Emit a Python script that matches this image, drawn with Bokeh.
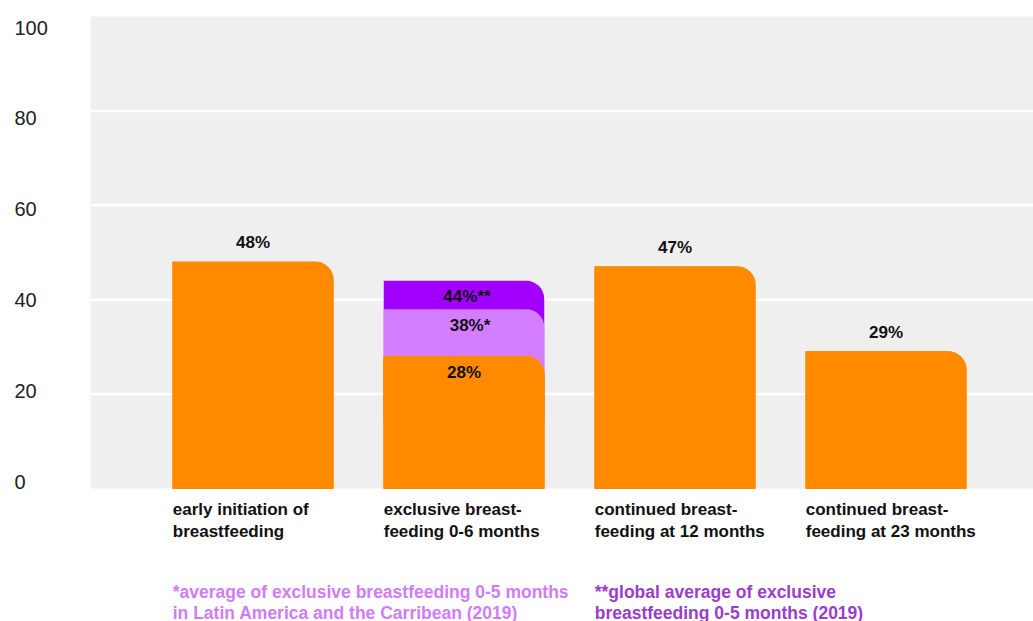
from bokeh.plotting import figure
from bokeh.models import Range1d, ColumnDataSource
from bokeh.core.properties import value
from bokeh.embed import file_html
from bokeh.resources import INLINE

# ---------------- data ----------------
categories = [
    "early initiation of\nbreastfeeding",
    "exclusive breast-\nfeeding 0-6 months",
    "continued breast-\nfeeding at 12 months",
    "continued breast-\nfeeding at 23 months",
]
values = [48, 28, 47, 29]
value_labels = ["48%", "28%", "47%", "29%"]

# overlays on the "exclusive breastfeeding" bar
overlay_index = 1
global_avg = 44
global_label = "44%**"
lac_avg = 38
lac_label = "38%*"

y_ticks = [0, 20, 40, 60, 80, 100]
y_tick_labels = ["0", "20", "40", "60", "80", "100"]

footnote_lac = "*average of exclusive breastfeeding 0-5 months\nin Latin America and the Carribean (2019)"
footnote_global = "**global average of exclusive\nbreastfeeding 0-5 months (2019)"

# ---------------- layout / style ----------------
W, H = 1033, 621
PX_PER_X = 211.0
X0_PX = 252.5
PX_PER_Y = 4.72
Y0_PX = 488.0
TICK_PX_PER_Y = 4.54
TICK_Y0_PX = 481.0
BAR_W = 160.5 / PX_PER_X

ORANGE = "#ff8a00"
PURPLE = "#a100ff"
LILAC = "#d27eff"
BG = "#efefef"
FONT = value("Liberation Sans")

def px_to_x(px):
    return (px - X0_PX) / PX_PER_X

x_range = Range1d(px_to_x(0), px_to_x(W))
y_range = Range1d(-(H - Y0_PX) / PX_PER_Y, Y0_PX / PX_PER_Y)

p = figure(width=W, height=H, x_range=x_range, y_range=y_range,
           x_axis_type=None, y_axis_type=None, toolbar_location=None,
           output_backend="svg", min_border=0, outline_line_color=None,
           background_fill_color="white", border_fill_color="white")
p.grid.visible = False
p.extra_y_ranges = {"ticks": Range1d(-(H - TICK_Y0_PX) / TICK_PX_PER_Y, TICK_Y0_PX / TICK_PX_PER_Y)}

xs = list(range(len(categories)))
left_x = px_to_x(90)
right_x = px_to_x(W + 5)

# plot background
p.quad(left=[left_x], right=[right_x], bottom=[min(y_ticks)], top=[max(y_ticks)],
       fill_color=BG, line_color=None)

# grid lines
grid_vals = [t for t in y_ticks if 0 < t < 100]
p.segment(x0=[left_x] * len(grid_vals), x1=[right_x] * len(grid_vals),
          y0=grid_vals, y1=grid_vals, line_color="white", line_width=2.5)

# bars (back to front); overlay bars start inside the orange bar so no edge shows
radius = (0, 18, 0, 0)
hidden_base = values[overlay_index] / 2
p.vbar(x=[xs[overlay_index]], top=[global_avg], bottom=hidden_base, width=BAR_W,
       fill_color=PURPLE, line_color=None, border_radius=radius)
p.vbar(x=[xs[overlay_index]], top=[lac_avg], bottom=hidden_base, width=BAR_W,
       fill_color=LILAC, line_color=None, border_radius=radius)
p.vbar(x=xs, top=values, bottom=0, width=BAR_W,
       fill_color=ORANGE, line_color=ORANGE, line_width=1, border_radius=radius)

# value labels
offsets = [16 if i == overlay_index else -19 for i in xs]
src = ColumnDataSource(dict(x=xs, y=values, t=value_labels, off=offsets))
p.text(x="x", y="y", text="t", y_offset="off", source=src, text_font=FONT,
       text_font_style="bold", text_font_size="17px", text_align="center",
       text_baseline="middle", text_color="#111111")
p.text(x=[xs[overlay_index], xs[overlay_index]], y=[global_avg, lac_avg],
       text=[global_label, lac_label], x_offset=[3, 6], y_offset=16,
       text_font=FONT, text_font_style="bold", text_font_size="17px",
       text_align="center", text_baseline="middle", text_color="#111111")

# category labels (two lines each), left aligned with bar edges
lefts = [x - BAR_W / 2 for x in xs]
line1 = [c.split("\n")[0] for c in categories]
line2 = [c.split("\n")[1] for c in categories]
for lines, off in ((line1, 21), (line2, 43)):
    p.text(x=lefts, y=[0] * len(lefts), text=lines, y_offset=off,
           text_font=FONT, text_font_style="bold", text_font_size="17px",
           text_align="left", text_baseline="alphabetic", text_color="#111111")

# footnotes
for note, idx, color in ((footnote_lac, 0, "#d07cf9"), (footnote_global, 2, "#9b3dcc")):
    for k, line in enumerate(note.split("\n")):
        p.text(x=[lefts[idx]], y=[0], text=[line], y_offset=103 + 21 * k,
               text_font=FONT, text_font_style="bold", text_font_size="17.5px",
               text_align="left", text_baseline="alphabetic", text_color=color)

# y tick labels
p.text(x=[px_to_x(14)] * len(y_ticks), y=y_ticks, text=y_tick_labels,
       y_range_name="ticks", text_font=FONT, text_font_size="20px",
       text_align="left", text_baseline="middle", text_color="#222222")

open("out.html", "w").write(file_html(p, INLINE))
